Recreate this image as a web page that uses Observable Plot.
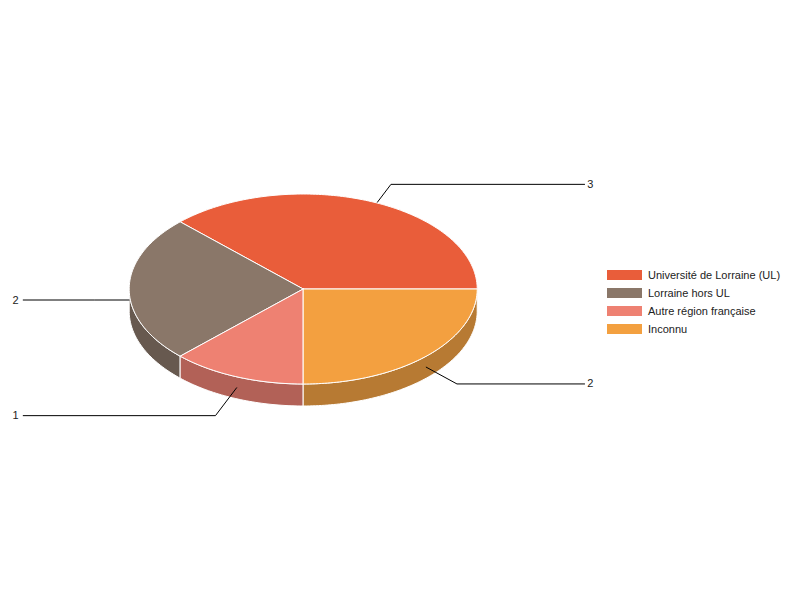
<!DOCTYPE html>
<html>
<head>
<meta charset="utf-8">
<script src="https://cdn.jsdelivr.net/npm/d3@7"></script>
<script src="https://cdn.jsdelivr.net/npm/@observablehq/plot@0.6"></script>
<style>
  body { margin: 0; background: #fff; }
  #wrap { position: relative; width: 800px; height: 600px; font-family: Arial, "Liberation Sans", sans-serif; }
  #legend { position: absolute; left: 607px; top: 266px; font-size: 11px; color: #222; }
  .row { height: 18px; display: flex; align-items: center; }
  .sw { width: 35px; height: 10px; margin-right: 6px; }
</style>
</head>
<body>
<div id="wrap"></div>
<script>
const categories = ["Université de Lorraine (UL)", "Lorraine hors UL", "Autre région française", "Inconnu"];
const values = [3, 2, 1, 2];
const topColors = ["#e95d3a", "#8a7769", "#ee8172", "#f3a040"];
const sideColors = ["#af462c", "#67594f", "#b26157", "#b77a33"];

// geometry parameters (unit = pie radius)
const tilt = 95 / 174;
const depth = 22 / 174;
const leader = 35 / 174;
const total = d3.sum(values);

let acc = 0;
const slices = values.map((v, i) => {
  const a0 = acc / total * 2 * Math.PI;
  acc += v;
  const a1 = acc / total * 2 * Math.PI;
  return {i, name: categories[i], value: v, a0, a1};
});

function arcPts(a0, a1, dy) {
  const n = Math.max(2, Math.ceil((a1 - a0) / (Math.PI / 180)));
  const pts = [];
  for (let k = 0; k <= n; k++) {
    const a = a0 + (a1 - a0) * k / n;
    pts.push({x: Math.cos(a), y: Math.sin(a) * tilt + dy});
  }
  return pts;
}

const marks = [];
// side walls (front half only)
slices.forEach(s => {
  const lo = Math.max(s.a0, Math.PI), hi = Math.min(s.a1, 2 * Math.PI);
  if (hi > lo) {
    const top = arcPts(lo, hi, 0);
    const bot = arcPts(lo, hi, -depth).reverse();
    const poly = [...top, ...bot, top[0]];
    marks.push(Plot.line(poly, {x: "x", y: "y", fill: sideColors[s.i], stroke: "white", strokeWidth: 1, curve: "linear"}));
  }
});
// leader lines
const labelData = slices.map(s => {
  const m = (s.a0 + s.a1) / 2;
  const c = Math.cos(m), sn = Math.sin(m);
  const right = c > 1e-9;
  const ax = c, ay = sn * tilt - depth / 2;
  const len = Math.hypot(c, sn * tilt);
  const ex = ax + leader * c / len, ey = ay + leader * sn * tilt / len;
  const endX = right ? 1.617 : -1.609;
  return {s, right, pts: [{x: ax, y: ay}, {x: ex, y: ey}, {x: endX, y: ey}], tx: right ? 1.65 : -1.653, ty: ey};
});
labelData.forEach(l => {
  marks.push(Plot.line(l.pts, {x: "x", y: "y", stroke: "black", strokeWidth: 1, curve: "linear"}));
});
// top faces
slices.forEach(s => {
  const poly = [{x: 0, y: 0}, ...arcPts(s.a0, s.a1, 0), {x: 0, y: 0}];
  marks.push(Plot.line(poly, {x: "x", y: "y", fill: topColors[s.i], stroke: "white", strokeWidth: 1, curve: "linear", strokeLinejoin: "round"}));
});
// value labels
marks.push(Plot.text(labelData, {
  x: "tx", y: "ty", text: d => String(d.s.value),
  textAnchor: d => d.right ? "start" : "end", fill: "#222", fontSize: 11
}));

const chart = Plot.plot({
  width: 800, height: 600,
  margin: 0,
  style: {fontFamily: "Arial, 'Liberation Sans', sans-serif", background: "white"},
  x: {domain: [-302.7 / 174, 497.3 / 174], axis: null},
  y: {domain: [-311.5 / 174, 288.5 / 174], axis: null},
  marks
});
const wrap = document.getElementById("wrap");
wrap.appendChild(chart);

const legend = document.createElement("div");
legend.id = "legend";
categories.forEach((c, i) => {
  const row = document.createElement("div");
  row.className = "row";
  const sw = document.createElement("div");
  sw.className = "sw";
  sw.style.background = topColors[i];
  const t = document.createElement("span");
  t.textContent = c;
  row.appendChild(sw);
  row.appendChild(t);
  legend.appendChild(row);
});
wrap.appendChild(legend);
</script>
</body>
</html>
